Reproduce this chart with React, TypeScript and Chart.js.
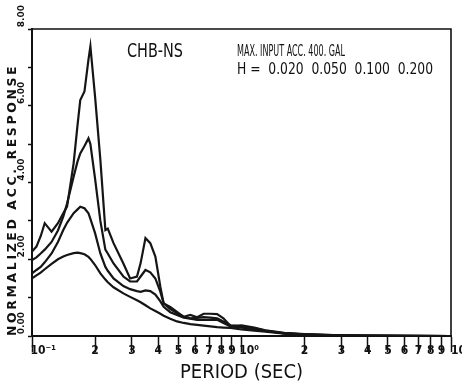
import React, { useEffect, useRef } from 'react';
import { Chart, registerables } from 'chart.js';

Chart.register(...registerables);

// Period (sec) sampling points
const PERIODS = [
  0.1, 0.105, 0.11, 0.115, 0.124, 0.133, 0.141, 0.147, 0.158, 0.165, 0.17, 0.178,
  0.186, 0.19, 0.2, 0.212, 0.224, 0.23, 0.245, 0.273, 0.294, 0.317, 0.33, 0.348,
  0.367, 0.388, 0.41, 0.425, 0.457, 0.492, 0.53, 0.57, 0.614, 0.66, 0.71, 0.765,
  0.82, 0.886, 1.0, 1.15, 1.3, 1.6, 2.0, 2.5, 3.0, 4.0, 6.0, 10.0,
];

// Normalized acceleration response, damping h = 0.020
const H002 = [
  2.2, 2.33, 2.6, 2.94, 2.72, 2.94, 3.2, 3.37, 4.5, 5.5, 6.15, 6.37,
  7.2, 7.55, 6.24, 4.59, 2.76, 2.8, 2.42, 1.89, 1.5, 1.55, 1.9, 2.55,
  2.42, 2.07, 1.28, 0.85, 0.76, 0.63, 0.5, 0.55, 0.49, 0.58, 0.58, 0.57,
  0.46, 0.26, 0.28, 0.22, 0.15, 0.08, 0.05, 0.03, 0.02, 0.01, 0.005, 0.0,
];
// h = 0.050
const H005 = [
  1.98, 2.05, 2.15, 2.25, 2.45, 2.75, 3.11, 3.45, 4.15, 4.55, 4.76, 4.95,
  5.15, 5.0, 4.1, 3.0, 2.25, 2.15, 1.89, 1.55, 1.42, 1.42, 1.55, 1.72,
  1.66, 1.5, 1.15, 0.85, 0.7, 0.6, 0.5, 0.46, 0.47, 0.49, 0.48, 0.46,
  0.38, 0.28, 0.25, 0.2, 0.14, 0.07, 0.045, 0.03, 0.02, 0.01, 0.005, 0.0,
];
// h = 0.100
const H010 = [
  1.63, 1.72, 1.8, 1.92, 2.15, 2.45, 2.76, 2.95, 3.2, 3.3, 3.37, 3.33,
  3.2, 3.05, 2.68, 2.15, 1.8, 1.7, 1.5, 1.3, 1.22, 1.17, 1.15, 1.19,
  1.17, 1.08, 0.9, 0.76, 0.62, 0.55, 0.48, 0.45, 0.42, 0.42, 0.42, 0.42,
  0.34, 0.25, 0.22, 0.18, 0.13, 0.07, 0.04, 0.025, 0.015, 0.01, 0.005, 0.0,
];
// h = 0.200
const H020 = [
  1.5, 1.58, 1.65, 1.74, 1.88, 2.0, 2.07, 2.11, 2.16, 2.17, 2.16, 2.13,
  2.06, 2.01, 1.85, 1.63, 1.47, 1.4, 1.27, 1.11, 1.02, 0.93, 0.88, 0.8,
  0.72, 0.65, 0.58, 0.53, 0.45, 0.38, 0.34, 0.31, 0.29, 0.27, 0.25, 0.23,
  0.22, 0.21, 0.17, 0.14, 0.11, 0.06, 0.035, 0.02, 0.01, 0.005, 0.002, 0.0,
];

const SERIES = [H002, H005, H010, H020];
const DAMPING_LABELS = ['0.020', '0.050', '0.100', '0.200'];

const X_TICKS = [
  0.1, 0.2, 0.3, 0.4, 0.5, 0.6, 0.7, 0.8, 0.9,
  1, 2, 3, 4, 5, 6, 7, 8, 9, 10,
];
const FS = '\u2007';
const X_TICK_LABELS = [
  FS + FS + FS + '10\u207B\u00B9', '2', '3', '4', '5', '6', '7', '8', '9',
  FS + FS + '10\u2070', '2', '3', '4', '5', '6', '7', '8', '9',
  FS + FS + '10',
];
const Y_TICKS = [0, 1, 2, 3, 4, 5, 6, 7, 8];
const Y_TICK_LABELS = ['0.00', '', '2.00', '', '4.00', '', '6.00', '', '8.00'];

const X_TITLE = 'PERIOD (SEC)';
const Y_TITLE = 'NORMALIZED ACC. RESPONSE';
const STATION = 'CHB-NS';
const INPUT_NOTE = 'MAX. INPUT ACC. 400. GAL';
const DAMPING_NOTE = 'H =  ' + DAMPING_LABELS.join('  ');

const COND = '"DejaVu Sans Condensed", "DejaVu Sans", sans-serif';

function drawFitted(ctx: CanvasRenderingContext2D, text: string, left: number, baseline: number, width: number, font: string) {
  ctx.save();
  ctx.font = font;
  ctx.textAlign = 'left';
  ctx.textBaseline = 'alphabetic';
  const w = ctx.measureText(text).width;
  ctx.translate(left, baseline);
  ctx.scale(width / w, 1);
  ctx.fillStyle = '#111';
  ctx.fillText(text, 0, 0);
  ctx.restore();
}

// widen the letter spacing of the y-axis title (as in the plotter lettering)
const spacedTitlePlugin = {
  id: 'spacedYTitle',
  beforeDraw(chart: any) {
    const s = chart.scales.y;
    if (!s || s.__spaced) return;
    const orig = s.drawTitle.bind(s);
    s.drawTitle = () => {
      const ctx = chart.ctx as any;
      const prev = ctx.letterSpacing;
      ctx.letterSpacing = '2.6px';
      orig();
      ctx.letterSpacing = prev || '0px';
    };
    s.__spaced = true;
  },
};

const framePlugin = {
  id: 'frameAndNotes',
  afterDraw(chart: any) {
    const { ctx, chartArea } = chart;
    ctx.save();
    ctx.strokeStyle = '#111';
    ctx.lineWidth = 1.6;
    ctx.beginPath();
    ctx.moveTo(chartArea.left, chartArea.top);
    ctx.lineTo(chartArea.right, chartArea.top);
    ctx.lineTo(chartArea.right, chartArea.bottom);
    ctx.stroke();
    ctx.restore();
    const L = chartArea.left;
    const T = chartArea.top;
    drawFitted(ctx, STATION, L + 95, T + 28, 56, `20px ${COND}`);
    drawFitted(ctx, INPUT_NOTE, L + 205, T + 27, 108, `15px ${COND}`);
    drawFitted(ctx, DAMPING_NOTE, L + 205, T + 45, 196, `15px ${COND}`);
  },
};

export default function App() {
  const ref = useRef<HTMLCanvasElement | null>(null);
  useEffect(() => {
    if (!ref.current) return;
    Chart.defaults.color = '#111';
    const chart = new Chart(ref.current, {
      type: 'line',
      data: {
        datasets: SERIES.map((vals, si) => ({
          label: 'h = ' + DAMPING_LABELS[si],
          data: PERIODS.map((p, i) => ({ x: p, y: vals[i] })),
          borderColor: '#151515',
          borderWidth: 2.2,
          pointRadius: 0,
          tension: 0,
          fill: false,
        })),
      },
      options: {
        animation: false,
        responsive: false,
        events: [],
        layout: { padding: { left: 0, right: 11, top: 29, bottom: 0 } },
        plugins: { legend: { display: false }, tooltip: { enabled: false } },
        scales: {
          x: {
            type: 'logarithmic',
            min: 0.1,
            max: 10,
            afterBuildTicks: (scale: any) => {
              scale.ticks = X_TICKS.map((v) => ({ value: v }));
            },
            afterFit: (scale: any) => {
              scale.height = 50;
              scale.paddingLeft = 0;
              scale.paddingRight = 0;
            },
            grid: {
              drawOnChartArea: false,
              drawTicks: true,
              tickLength: 16,
              tickWidth: 1.5,
              tickColor: '#111',
            },
            border: { display: true, color: '#111', width: 2 },
            ticks: {
              autoSkip: false,
              minRotation: 0,
              maxRotation: 0,
              padding: -8,
              color: '#111',
              font: { family: COND, size: 12, weight: 'bold' },
              callback: (v: any) => {
                const idx = X_TICKS.findIndex((t) => Math.abs(t - Number(v)) < 1e-9);
                return idx >= 0 ? X_TICK_LABELS[idx] : '';
              },
            },
            title: {
              display: true,
              text: X_TITLE,
              color: '#111',
              font: { family: COND, size: 20, weight: 'normal' },
              padding: { top: 0, bottom: 1 },
            },
          },
          y: {
            type: 'linear',
            min: 0,
            max: 8,
            afterBuildTicks: (scale: any) => {
              scale.ticks = Y_TICKS.map((v) => ({ value: v }));
            },
            afterFit: (scale: any) => {
              scale.width = 32;
              scale.paddingTop = 0;
              scale.paddingBottom = 0;
            },
            grid: {
              drawOnChartArea: false,
              drawTicks: true,
              tickLength: 4,
              tickWidth: 1.5,
              tickColor: '#111',
            },
            border: { display: true, color: '#111', width: 2 },
            ticks: {
              minRotation: 90,
              maxRotation: 90,
              crossAlign: 'near',
              padding: 6,
              labelOffset: -24,
              color: '#111',
              font: { family: '"DejaVu Sans", sans-serif', size: 9, weight: 'bold' },
              callback: (v: any) => {
                const idx = Y_TICKS.indexOf(Number(v));
                return idx >= 0 ? Y_TICK_LABELS[idx] : '';
              },
            },
            title: {
              display: true,
              text: Y_TITLE,
              align: 'start',
              color: '#111',
              font: { family: '"DejaVu Sans", sans-serif', size: 12.5, weight: 'bold' },
              padding: { top: 5, bottom: 0 },
            },
          },
        },
      },
      plugins: [spacedTitlePlugin, framePlugin],
    } as any);
    return () => chart.destroy();
  }, []);
  return (
    <div style={{ position: 'fixed', left: 0, top: 0, width: 462, height: 386, background: '#fff' }}>
      <canvas ref={ref} width={462} height={386} style={{ display: 'block' }} />
    </div>
  );
}
